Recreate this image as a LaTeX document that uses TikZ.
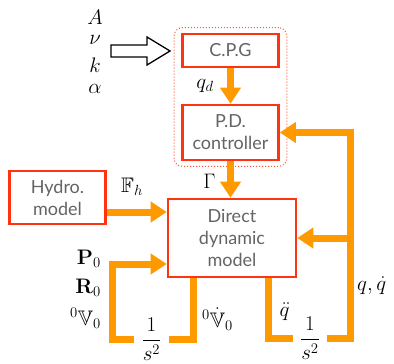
\documentclass[tikz,border=0pt]{standalone}
\usepackage{fix-cm}
\usepackage{amsmath,amssymb}
\usepackage[no-math]{fontspec}
\setmainfont{Lato}
\usetikzlibrary{arrows.meta,fit}
\definecolor{boxred}{RGB}{255,51,17}
\definecolor{flow}{RGB}{255,153,0}
\definecolor{txtgray}{RGB}{100,100,100}
\begin{document}
\begin{tikzpicture}[x=1pt,y=-1pt,
  blk/.style={draw=boxred, line width=2.6pt, fill=white, text=txtgray, align=center,
    font=\fontsize{18}{22}\selectfont, inner sep=0pt},
  flowline/.style={draw=flow, line width=7pt},
  flowarrow/.style={flowline, -{Triangle[width=20pt,length=16pt]}},
  lbl/.style={font=\fontsize{21}{25}\selectfont, inner sep=0pt},
  fracnode/.style={inner xsep=7pt, inner ysep=0pt}]
\useasboundingbox (0,0) rectangle (394,364);
% blocks
\node[blk, minimum width=96pt, minimum height=33pt] (cpg) at (230.5,50.5) {C.P.G};
\node[blk, minimum width=96pt, minimum height=55pt] (pd) at (230.5,132.5) {P.D.\\controller};
\node[blk, minimum width=128pt, minimum height=78pt] (ddm) at (232,238) {Direct\\dynamic\\model};
\node[blk, minimum width=96pt, minimum height=53pt] (hydro) at (57.5,197.5) {Hydro.\\model};
\node[draw=boxred!85, dotted, line width=1pt, rounded corners=8pt, fit=(cpg)(pd),
  inner xsep=7pt, inner ysep=5pt] (grp) {};
% fractions
\node[lbl, fracnode] (fr1) at (151.5,339) {$\dfrac{1}{s^2}$};
\node[lbl, fracnode] (fr2) at (310,338) {$\dfrac{1}{s^2}$};
% flows
\draw[flowarrow] (cpg.south) -- (pd.north);
\draw[flowarrow] (pd.south) -- (pd.south |- ddm.north);
\draw[flowarrow] ([yshift=-14.5pt]hydro.east) -- ([yshift=-14.5pt]hydro.east -| ddm.west);
\draw[flowline] ([xshift=-39pt]ddm.south) |- (fr1.east);
\draw[flowarrow] (fr1.west) -- ++(-22,0) |- ([yshift=-26pt]ddm.west);
\draw[flowline] ([xshift=36pt]ddm.south) |- (fr2.west);
\draw[flowarrow] (fr2.east) -- ++(23,0) |- (pd.east);
\draw[flowarrow] ([xshift=23pt]fr2.east |- ddm.east) -- (ddm.east);
% parameter labels
\node[lbl] (pA) at (95,17) {$A$};
\node[lbl] (pnu) at (95,40) {$\nu$};
\node[lbl] (pk) at (95,65) {$k$};
\node[lbl] (palpha) at (95,88.5) {$\alpha$};
\draw[line width=1.3pt, fill=white] (111,45) -- (147,45) -- (147,37) -- (170,51)
  -- (147,65) -- (147,57) -- (111,57) -- cycle;
% signal labels
\node[lbl, anchor=base] (qd) at (205,88) {$q_d$};
\node[lbl, anchor=base] (gam) at (209.5,188) {$\Gamma$};
\node[lbl, anchor=base] (fh) at (132,192) {$\mathbb{F}_h$};
\node[lbl, anchor=base east] (p0) at (101,264) {$\mathbf{P}_0$};
\node[lbl, anchor=base east] (r0) at (101,293) {$\mathbf{R}_0$};
\node[lbl, anchor=base east] (v0) at (101,325) {${}^0\mathbb{V}_0$};
\node[lbl, anchor=base] (vd) at (217.5,327) {${}^0\dot{\mathbb{V}}_0$};
\node[lbl, anchor=base] (qdd) at (284.5,316) {$\ddot q$};
\node[lbl, anchor=base west] (qqd) at (357,290) {$q,\dot q$};
\end{tikzpicture}
\end{document}
